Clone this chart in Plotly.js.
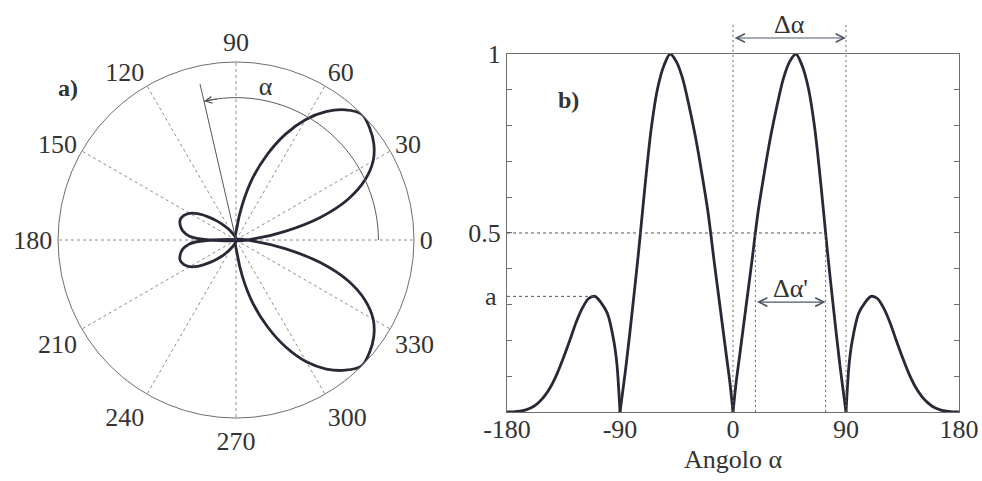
<!DOCTYPE html>
<html>
<head>
<meta charset="utf-8">
<script src="https://cdn.plot.ly/plotly-3.0.1.min.js"></script>
<style>
  html, body { margin: 0; padding: 0; background: #ffffff; }
  #chart { width: 982px; height: 481px; }
</style>
</head>
<body>
<div id="chart"></div>
<script>
// ---- a) polar radiation pattern: angle (deg) and normalised amplitude ----
const polarTheta = [
  0, 5, 10, 15, 20, 25, 30, 35, 40, 45, 50, 55, 60, 65, 70, 75, 80, 85, 90,
  100, 110, 120, 125, 130, 135, 140, 145, 150, 155, 160, 165, 170, 175, 178, 180,
  182, 185, 190, 195, 200, 205, 210, 215, 220, 225, 230, 235, 240, 250, 260, 270,
  275, 280, 285, 290, 295, 300, 305, 310, 315, 320, 325, 330, 335, 340, 345, 350, 355, 360
];
const polarR = [
  0, 0.12, 0.28, 0.49, 0.67, 0.80, 0.89, 0.945, 0.98, 1.0, 0.955, 0.88, 0.78, 0.655, 0.51, 0.36, 0.2, 0.08, 0,
  0.01, 0.025, 0.05, 0.075, 0.11, 0.15, 0.2, 0.255, 0.3, 0.325, 0.334, 0.325, 0.305, 0.265, 0.2, 0,
  0.2, 0.265, 0.305, 0.325, 0.334, 0.325, 0.3, 0.255, 0.2, 0.15, 0.11, 0.075, 0.05, 0.025, 0.01, 0,
  0.08, 0.21, 0.37, 0.52, 0.665, 0.79, 0.885, 0.955, 1.0, 0.98, 0.945, 0.89, 0.80, 0.67, 0.49, 0.28, 0.12, 0
];
const polarTicks = [0, 30, 60, 90, 120, 150, 180, 210, 240, 270, 300, 330];

// ---- b) the same pattern against angle on a cartesian axis ----
const angle = [
  -180, -175, -170, -165, -160, -155, -150, -145, -140, -135, -130, -125, -120, -115, -110, -105, -100, -95, -92.5, -90,
  -85, -80, -75, -70, -65, -60, -55, -50, -45, -40, -35, -30, -25, -20, -15, -10, -5, -2.5, 0,
  2.5, 5, 10, 15, 20, 25, 30, 35, 40, 45, 50, 55, 60, 65, 70, 75, 80, 85, 90,
  92.5, 95, 100, 105, 110, 115, 120, 125, 130, 135, 140, 145, 150, 155, 160, 165, 170, 175, 180
];
const amplitude = [
  0, 0.0005, 0.002, 0.006, 0.013, 0.026, 0.045, 0.072, 0.108, 0.152, 0.2, 0.25, 0.29, 0.317, 0.323, 0.305, 0.275, 0.2, 0.135, 0,
  0.135, 0.29, 0.455, 0.635, 0.795, 0.905, 0.968, 1.0, 0.978, 0.93, 0.855, 0.77, 0.67, 0.56, 0.42, 0.285, 0.15, 0.083, 0,
  0.083, 0.15, 0.285, 0.42, 0.56, 0.67, 0.77, 0.855, 0.93, 0.978, 1.0, 0.968, 0.905, 0.795, 0.635, 0.455, 0.29, 0.135, 0,
  0.135, 0.2, 0.275, 0.305, 0.323, 0.317, 0.29, 0.25, 0.2, 0.152, 0.108, 0.072, 0.045, 0.026, 0.013, 0.006, 0.002, 0.0005, 0
];
const xTicks = [-180, -90, 0, 90, 180];
const yTicks = [0, 0.1, 0.2, 0.3, 0.4, 0.5, 0.6, 0.7, 0.8, 0.9, 1];
const yLabels = ['', '', '', '', '', '0.5', '', '', '', '', '1'];

const INK = '#2a2836';
const TXT = '#333333';
const GRID = '#8c8c8c';
const AXIS = '#6e6e6e';
const SERIF = 'Liberation Serif, Times New Roman, serif';
const FS = 26;

// split a series into lobes at its zeros so each lobe is smoothed on its own
function lobes(xs, ys, cuts) {
  const out = [];
  let start = 0;
  for (let i = 1; i < xs.length; i++) {
    if (cuts.includes(xs[i]) || i === xs.length - 1) {
      out.push([xs.slice(start, i + 1), ys.slice(start, i + 1)]);
      start = i;
    }
  }
  return out;
}

const traces = [];

lobes(polarTheta, polarR, [90, 180, 270]).forEach(([t, r]) => {
  traces.push({
    type: 'scatterpolar', subplot: 'polar', theta: t, r: r, mode: 'lines',
    line: { color: INK, width: 2.8, shape: 'spline', smoothing: 0.9 },
    hoverinfo: 'skip', showlegend: false, cliponaxis: false
  });
});

// angle indicator: direction line and arc of alpha measured from 0 deg
const ALPHA_DIR = 103, ALPHA_ARC = 0.8, ALPHA_LINE = 0.9;
const arcT = [], arcR = [];
for (let t = 0; t <= ALPHA_DIR; t += 1) { arcT.push(t); arcR.push(ALPHA_ARC); }
traces.push({
  type: 'scatterpolar', subplot: 'polar', theta: arcT, r: arcR, mode: 'lines',
  line: { color: '#555', width: 1 }, hoverinfo: 'skip', showlegend: false
});
traces.push({
  type: 'scatterpolar', subplot: 'polar', theta: [ALPHA_DIR, ALPHA_DIR], r: [0, ALPHA_LINE], mode: 'lines',
  line: { color: '#555', width: 1 }, hoverinfo: 'skip', showlegend: false
});
traces.push({
  type: 'scatterpolar', subplot: 'polar', theta: [79], r: [0.87], mode: 'text', text: ['α'],
  textfont: { family: SERIF, size: FS, color: TXT }, hoverinfo: 'skip', showlegend: false
});

lobes(angle, amplitude, [-90, 0, 90]).forEach(([x, y]) => {
  traces.push({
    type: 'scatter', xaxis: 'x', yaxis: 'y', x: x, y: y, mode: 'lines',
    line: { color: INK, width: 2.8, shape: 'spline', smoothing: 0.9 },
    hoverinfo: 'skip', showlegend: false, cliponaxis: false
  });
});

// levels: side-lobe peak and the half-amplitude crossings
let aLevel = 0, aAngle = 0;
angle.forEach((x, i) => { if (x < -90 && amplitude[i] > aLevel) { aLevel = amplitude[i]; aAngle = x; } });
let peakAngle = 0, peakVal = 0;
angle.forEach((x, i) => { if (x > 0 && x < 90 && amplitude[i] > peakVal) { peakVal = amplitude[i]; peakAngle = x; } });
function crossing(x0, x1, level) {
  for (let i = 1; i < angle.length; i++) {
    const xa = angle[i - 1], xb = angle[i];
    if (xa < x0 || xb > x1) continue;
    const ya = amplitude[i - 1], yb = amplitude[i];
    if ((ya - level) * (yb - level) <= 0 && ya !== yb) return xa + (level - ya) * (xb - xa) / (yb - ya);
  }
  return null;
}
const half = 0.5;
const hL = crossing(0, peakAngle, half);
const hR = crossing(peakAngle, 90, half);

const xDom = [0.5163, 0.9766], yDom = [0.1435, 0.8877];
const pxDom = [0.0591, 0.4216], pyDom = [0.131, 0.871];
const W = 982, H = 481;
const pyTop = 0.948;        // top of the beam-width markers (paper)
const pyArrow = 0.921;      // height of the Δα arrow (paper)

const shapes = [
  { type: 'line', xref: 'x', yref: 'y', x0: -180, x1: hR, y0: half, y1: half, line: { color: '#555', width: 1, dash: '3px,3px' } },
  { type: 'line', xref: 'x', yref: 'y', x0: -180, x1: aAngle, y0: aLevel, y1: aLevel, line: { color: '#555', width: 1, dash: '3px,3px' } },
  { type: 'line', xref: 'x', yref: 'paper', x0: 0, x1: 0, y0: yDom[0], y1: pyTop, line: { color: '#666', width: 1, dash: '2px,3px' } },
  { type: 'line', xref: 'x', yref: 'paper', x0: 90, x1: 90, y0: yDom[0], y1: pyTop, line: { color: '#666', width: 1, dash: '2px,3px' } },
  { type: 'line', xref: 'x', yref: 'y', x0: hL, x1: hL, y0: 0, y1: half, line: { color: '#666', width: 1, dash: '2px,3px' } },
  { type: 'line', xref: 'x', yref: 'y', x0: hR, x1: hR, y0: 0, y1: half, line: { color: '#666', width: 1, dash: '2px,3px' } }
];

// pixel geometry of the polar disc, for the arc's arrowhead
const cx = (pxDom[0] + pxDom[1]) / 2 * W;
const cy = H - (pyDom[0] + pyDom[1]) / 2 * H;
const R = (pxDom[1] - pxDom[0]) / 2 * W;
const rad = d => d * Math.PI / 180;
const tipX = cx + ALPHA_ARC * R * Math.cos(rad(ALPHA_DIR));
const tipY = cy - ALPHA_ARC * R * Math.sin(rad(ALPHA_DIR));
const tailX = cx + ALPHA_ARC * R * Math.cos(rad(ALPHA_DIR - 6));
const tailY = cy - ALPHA_ARC * R * Math.sin(rad(ALPHA_DIR - 6));

const label = (extra) => Object.assign({ showarrow: false, xanchor: 'center', yanchor: 'middle' }, extra);

const annotations = [
  { xref: 'paper', yref: 'paper', x: tipX / W, y: 1 - tipY / H, ax: tailX - tipX, ay: tailY - tipY,
    text: '', showarrow: true, arrowhead: 5, arrowsize: 1.3, arrowwidth: 1, arrowcolor: '#555', standoff: 0 },
  label({ xref: 'paper', yref: 'paper', x: 68 / W, y: 1 - 88 / H, text: '<b>a)</b>',
    font: { family: SERIF, size: 24, color: TXT } }),
  label({ xref: 'paper', yref: 'paper', x: 568 / W, y: 1 - 100 / H, text: '<b>b)</b>',
    font: { family: SERIF, size: 24, color: TXT } }),
  { xref: 'x', yref: 'paper', x: 90, y: pyArrow, axref: 'x', ayref: 'paper', ax: 0, ay: pyArrow,
    text: '', showarrow: true, arrowside: 'end+start', arrowhead: 5, arrowsize: 1.4, arrowwidth: 1.2,
    arrowcolor: '#4e5866', standoff: 0, startstandoff: 0 },
  label({ xref: 'x', yref: 'paper', x: 45, y: 1 - 24 / H, text: 'Δα',
    font: { family: SERIF, size: FS, color: TXT } }),
  { xref: 'x', yref: 'y', x: hR, y: 0.307, axref: 'x', ayref: 'y', ax: hL, ay: 0.307,
    text: '', showarrow: true, arrowside: 'end+start', arrowhead: 5, arrowsize: 1.4, arrowwidth: 1.2,
    arrowcolor: '#4e5866', standoff: 0, startstandoff: 0 },
  label({ xref: 'x', yref: 'y', x: (hL + hR) / 2, y: 0.345, text: "Δα'",
    font: { family: SERIF, size: FS, color: TXT } }),
  label({ xref: 'paper', yref: 'y', x: xDom[0] - 0.008, y: aLevel, xanchor: 'right', text: 'a',
    font: { family: SERIF, size: FS, color: TXT } })
];

const layout = {
  width: W, height: H,
  margin: { l: 0, r: 0, t: 0, b: 0 },
  paper_bgcolor: '#ffffff', plot_bgcolor: 'rgba(0,0,0,0)',
  showlegend: false,
  font: { family: SERIF, size: FS, color: TXT },
  polar: {
    domain: { x: pxDom, y: pyDom },
    bgcolor: 'rgba(0,0,0,0)',
    radialaxis: { visible: false, range: [0, 1] },
    angularaxis: {
      rotation: 0, direction: 'counterclockwise',
      tickmode: 'array', tickvals: polarTicks, ticktext: polarTicks.map(String),
      ticks: '', showline: true, linecolor: AXIS, linewidth: 1,
      showgrid: true, gridcolor: GRID, gridwidth: 1, griddash: 'dot',
      tickfont: { family: SERIF, size: FS, color: TXT }
    }
  },
  xaxis: {
    domain: xDom, range: [-180, 180], anchor: 'y',
    tickmode: 'array', tickvals: xTicks, ticktext: xTicks.map(String),
    ticks: '', ticklabelstandoff: -6, showgrid: false, zeroline: false,
    showline: true, linecolor: AXIS, linewidth: 1, mirror: true,
    tickfont: { family: SERIF, size: FS, color: TXT },
    title: { text: 'Angolo α', font: { family: SERIF, size: FS, color: TXT }, standoff: 6 }
  },
  yaxis: {
    domain: yDom, range: [0, 1], anchor: 'x',
    tickmode: 'array', tickvals: yTicks, ticktext: yLabels,
    ticks: 'inside', ticklen: 5, tickcolor: AXIS, tickwidth: 1,
    showgrid: false, zeroline: false,
    showline: true, linecolor: AXIS, linewidth: 1, mirror: 'ticks',
    tickfont: { family: SERIF, size: FS, color: TXT }
  },
  shapes: shapes,
  annotations: annotations
};

Plotly.newPlot('chart', traces, layout, { staticPlot: true, displayModeBar: false });
</script>
</body>
</html>
